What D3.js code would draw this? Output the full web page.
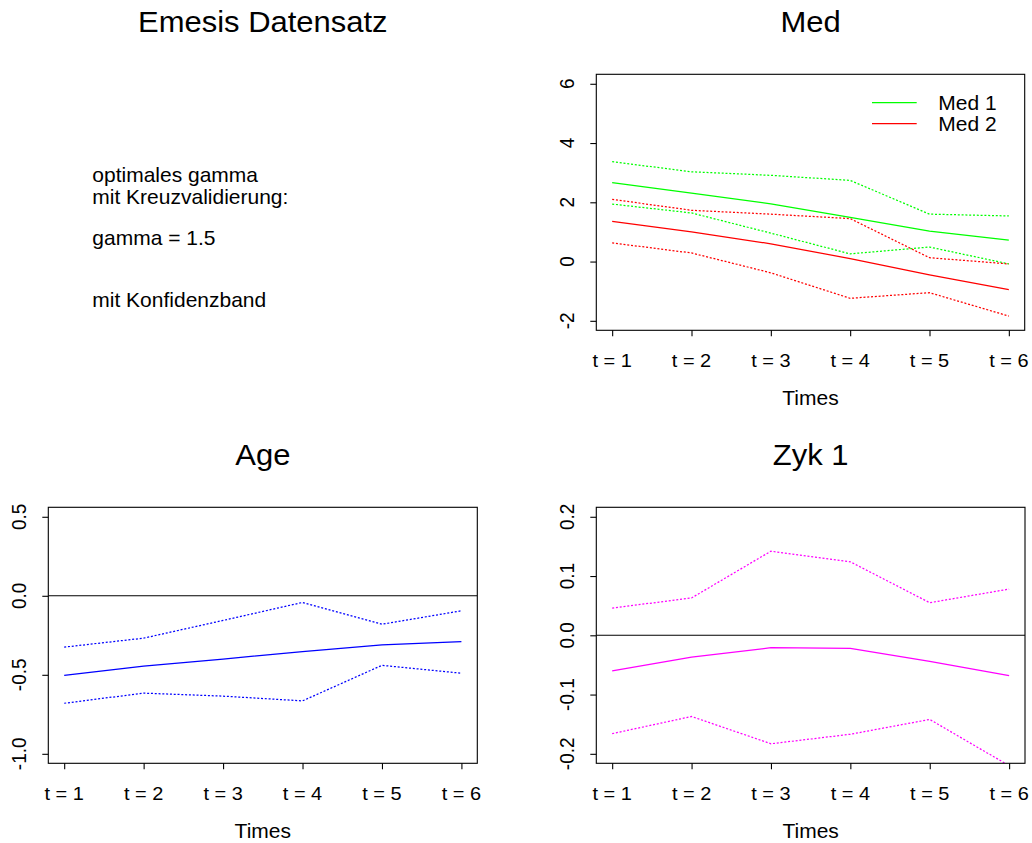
<!DOCTYPE html>
<html>
<head>
<meta charset="utf-8">
<script src="https://cdn.jsdelivr.net/npm/d3@7"></script>
<style>
  html, body { margin: 0; padding: 0; background: #fff; }
  svg { display: block; }
  text { font-family: "Liberation Sans", Arial, Helvetica, sans-serif; fill: #000; }
</style>
</head>
<body>
<svg id="chart" width="1032" height="843"></svg>
<script>
// Time points shared by all panels
const times = ["t = 1", "t = 2", "t = 3", "t = 4", "t = 5", "t = 6"];

// Med: estimated effect and confidence band per medication group
const med1 = [2.66, 2.31, 1.95, 1.49, 1.03, 0.72];
const med1Upper = [3.37, 3.03, 2.91, 2.74, 1.60, 1.54];
const med1Lower = [1.94, 1.64, 0.96, 0.26, 0.49, -0.08];
const med2 = [1.36, 1.00, 0.60, 0.10, -0.45, -0.95];
const med2Upper = [2.10, 1.73, 1.60, 1.45, 0.13, -0.08];
const med2Lower = [0.63, 0.29, -0.38, -1.24, -1.05, -1.84];
const medTicks = [-2, 0, 2, 4, 6];
const medLimits = [-2, 6];

// Age effect with confidence band
const age = [-0.504, -0.445, -0.40, -0.353, -0.31, -0.29];
const ageUpper = [-0.325, -0.268, -0.156, -0.042, -0.18, -0.095];
const ageLower = [-0.68, -0.616, -0.635, -0.665, -0.44, -0.49];
const ageTicks = [-1.0, -0.5, 0.0, 0.5];
const ageLimits = [-1, 0.5];

// Zyk 1 effect with confidence band
const zyk = [-0.060, -0.037, -0.021, -0.022, -0.044, -0.068];
const zykUpper = [0.046, 0.063, 0.142, 0.124, 0.055, 0.078];
const zykLower = [-0.166, -0.137, -0.183, -0.167, -0.142, -0.22];
const zykTicks = [-0.2, -0.1, 0.0, 0.1, 0.2];
const zykLimits = [-0.2, 0.2];

const legendLabels = ["Med 1", "Med 2"];
const infoLines = ["optimales gamma", "mit Kreuzvalidierung:", "gamma = 1.5", "mit Konfidenzband"];

const svg = d3.select("#chart");
const SX = 1.05;          // slight horizontal glyph stretch of the device
const TICK_FS = 19, LAB_FS = 20, TITLE_FS = 29.5;

// plain ASCII hyphen for negative numbers
const locale = d3.formatLocale({ decimal: ".", thousands: ",", grouping: [3], currency: ["", ""], minus: "-" });

function addText(g, x, y, str, size, anchor, rot) {
  return g.append("text")
    .attr("transform", `translate(${x},${y}) scale(${SX},1)` + (rot ? ` rotate(${rot})` : ""))
    .attr("text-anchor", anchor || "start")
    .style("font-size", size + "px")
    .text(str);
}

// R-style axis extension: 4% on each side
function extend(lim) { const d = (lim[1] - lim[0]) * 0.04; return [lim[0] - d, lim[1] + d]; }

function panel(opts) {
  const { id, left, top, width, height, title, yLimits, yTicks, yFmt, series, zeroLine } = opts;
  const g = svg.append("g").attr("transform", `translate(${left},${top})`);
  const x = d3.scaleLinear().domain([0.8, 6.2]).range([0, width]);
  const y = d3.scaleLinear().domain(extend(yLimits)).range([height, 0]);

  g.append("clipPath").attr("id", "clip-" + id)
    .append("rect").attr("width", width).attr("height", height);

  const plot = g.append("g").attr("clip-path", `url(#clip-${id})`);
  if (zeroLine) {
    plot.append("line").attr("x1", 0).attr("x2", width)
      .attr("y1", y(0)).attr("y2", y(0))
      .attr("stroke", "#000").attr("stroke-width", 1.1);
  }
  const line = d3.line().x((d, i) => x(i + 1)).y(d => y(d));
  series.forEach(s => {
    plot.append("path").datum(s.values)
      .attr("d", line)
      .attr("fill", "none")
      .attr("stroke", s.color)
      .attr("stroke-width", 1.25)
      .attr("stroke-dasharray", s.dotted ? "2,1.8" : null);
  });

  // frame
  g.append("rect").attr("width", width).attr("height", height)
    .attr("fill", "none").attr("stroke", "#000").attr("stroke-width", 1.1);

  // x axis
  const xa = g.append("g").attr("transform", `translate(0,${height})`)
    .call(d3.axisBottom(x).tickValues(d3.range(1, 7)).tickSize(6).tickSizeOuter(0)
      .tickFormat((d, i) => times[i]));
  xa.select(".domain").remove();
  xa.selectAll(".tick line").attr("stroke", "#000").attr("stroke-width", 1.1);
  xa.selectAll(".tick text").remove();
  times.forEach((t, i) => addText(g, x(i + 1), height + 36.5, t, TICK_FS, "middle"));

  // y axis
  const ya = g.append("g")
    .call(d3.axisLeft(y).tickValues(yTicks).tickSize(6).tickSizeOuter(0));
  ya.select(".domain").remove();
  ya.selectAll(".tick line").attr("stroke", "#000").attr("stroke-width", 1.1);
  ya.selectAll(".tick text").remove();
  yTicks.forEach(v => addText(g, -22, y(v), yFmt(v), TICK_FS, "middle", -90));

  addText(g, width / 2, height + 74.5, "Times", LAB_FS, "middle");
  addText(g, width / 2, -42, title, TITLE_FS, "middle");
  return { g, x, y };
}

// Top-left: title and model notes
const info = svg.append("g");
addText(info, 262.8, 32, "Emesis Datensatz", TITLE_FS, "middle");
const infoY = [182, 203.5, 245, 306.5];
infoLines.forEach((t, i) => addText(info, 92.3, infoY[i], t, LAB_FS, "start"));

// Med panel
const medPanel = panel({
  id: "med", left: 596.3, top: 74.3, width: 428.4, height: 256, title: "Med",
  yLimits: medLimits, yTicks: medTicks, yFmt: locale.format("d"), zeroLine: false,
  series: [
    { values: med1Upper, color: "#00ff00", dotted: true },
    { values: med1Lower, color: "#00ff00", dotted: true },
    { values: med2Upper, color: "#ff0000", dotted: true },
    { values: med2Lower, color: "#ff0000", dotted: true },
    { values: med1, color: "#00ff00" },
    { values: med2, color: "#ff0000" }
  ]
});

// legend
const legColors = ["#00ff00", "#ff0000"];
legendLabels.forEach((lab, i) => {
  const ly = 28.4 + i * 21;
  medPanel.g.append("line")
    .attr("x1", 275.7).attr("x2", 320.4).attr("y1", ly).attr("y2", ly)
    .attr("stroke", legColors[i]).attr("stroke-width", 1.25);
  addText(medPanel.g, 342, ly + 6.8, lab, LAB_FS, "start");
});

// Age panel
panel({
  id: "age", left: 48.3, top: 507.3, width: 429, height: 256, title: "Age",
  yLimits: ageLimits, yTicks: ageTicks, yFmt: locale.format(".1f"), zeroLine: true,
  series: [
    { values: ageUpper, color: "#0000ff", dotted: true },
    { values: ageLower, color: "#0000ff", dotted: true },
    { values: age, color: "#0000ff" }
  ]
});

// Zyk 1 panel
panel({
  id: "zyk", left: 596.3, top: 507.3, width: 428.7, height: 256, title: "Zyk 1",
  yLimits: zykLimits, yTicks: zykTicks, yFmt: locale.format(".1f"), zeroLine: true,
  series: [
    { values: zykUpper, color: "#ff00ff", dotted: true },
    { values: zykLower, color: "#ff00ff", dotted: true },
    { values: zyk, color: "#ff00ff" }
  ]
});
</script>
</body>
</html>
